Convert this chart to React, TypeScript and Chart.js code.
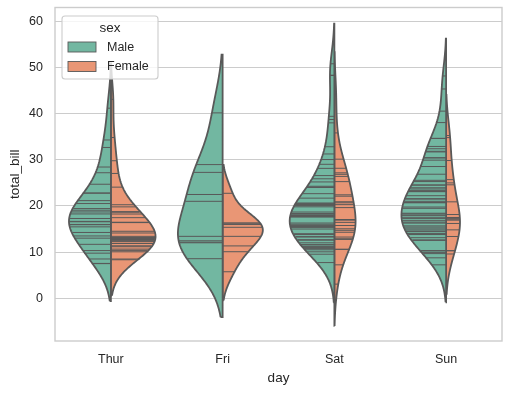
import React, { useEffect, useRef } from "react";
import { Chart, registerables } from "chart.js";

Chart.register(...registerables);

const days = ["Thur", "Fri", "Sat", "Sun"];
const hues = ["Male", "Female"];
const yTicks = [0, 10, 20, 30, 40, 50, 60];

const thurMale = [27.2, 22.76, 17.29, 19.44, 16.66, 32.68, 15.98, 13.03, 18.28, 24.71, 21.16, 11.69, 14.26, 15.95, 8.52, 22.82, 19.08, 16.0, 34.3, 41.19, 9.78, 7.51, 28.44, 15.48, 16.58, 7.56, 10.34, 13.51, 18.71, 20.53];
const thurFemale = [10.07, 34.83, 10.65, 12.43, 24.08, 13.42, 12.48, 29.8, 14.52, 11.38, 20.27, 11.17, 12.26, 18.26, 8.51, 10.33, 14.15, 13.16, 17.47, 27.05, 16.43, 8.35, 18.64, 11.87, 19.81, 43.11, 13.0, 12.74, 13.0, 16.4, 16.47, 18.78];
const friMale = [28.97, 22.49, 40.17, 27.28, 12.03, 21.01, 12.46, 12.16, 8.58, 13.42];
const friFemale = [5.75, 16.32, 22.75, 11.35, 15.38, 13.42, 15.98, 16.27, 10.09];
const satMale = [20.65, 17.92, 39.42, 19.82, 17.81, 13.37, 12.69, 21.7, 9.55, 18.35, 17.78, 24.06, 16.31, 18.69, 31.27, 16.04, 38.01, 11.24, 48.27, 20.29, 13.81, 11.02, 18.29, 17.59, 20.08, 20.23, 15.01, 12.02, 10.51, 17.92, 15.36, 20.49, 25.21, 18.24, 14.0, 50.81, 15.81, 26.59, 38.73, 24.27, 30.06, 25.89, 48.33, 28.15, 11.59, 7.74, 20.45, 13.28, 24.01, 15.69, 11.61, 10.77, 15.53, 10.07, 12.6, 32.83, 29.03, 22.67, 17.82];
const satFemale = [20.29, 15.77, 19.65, 15.06, 20.69, 16.93, 26.41, 16.45, 3.07, 17.07, 26.86, 25.28, 14.73, 44.3, 22.42, 20.92, 14.31, 7.25, 10.59, 10.63, 12.76, 13.27, 28.17, 12.9, 30.14, 22.12, 35.83, 27.18];
const sunMale = [10.34, 21.01, 23.68, 25.29, 8.77, 26.88, 15.04, 14.78, 10.27, 15.42, 18.43, 21.58, 16.29, 17.46, 13.94, 9.68, 30.4, 18.29, 22.23, 32.4, 28.55, 18.04, 12.54, 9.94, 25.56, 19.49, 38.07, 23.95, 29.93, 14.07, 13.13, 17.26, 24.55, 19.77, 48.17, 16.49, 21.5, 12.66, 13.81, 24.52, 20.76, 31.71, 7.25, 31.85, 16.82, 32.9, 17.89, 14.48, 34.63, 34.65, 23.33, 45.35, 23.17, 40.55, 20.69, 30.46, 23.1, 15.69];
const sunFemale = [16.99, 24.59, 35.26, 14.83, 10.33, 16.97, 10.29, 34.81, 25.71, 17.31, 29.85, 25.0, 13.39, 16.21, 17.51, 9.6, 20.9, 18.15];

const groups = [
  [thurMale, thurFemale],
  [friMale, friFemale],
  [satMale, satFemale],
  [sunMale, sunFemale],
];

const FILL = ["#72b7a1", "#e99675"];
const GRAY = "#595959";
const TEXT = "#262626";
const GRID = "#cccccc";
const FONT = "'Liberation Sans', Arial, sans-serif";
const HALF_WIDTH = 0.4;
const GRIDSIZE = 100;
const CUT = 2;

function kde(values: number[]) {
  const n = values.length;
  const mean = values.reduce((a, b) => a + b, 0) / n;
  const sd = Math.sqrt(values.reduce((a, v) => a + (v - mean) * (v - mean), 0) / (n - 1));
  const bw = sd * Math.pow(n, -0.2);
  const lo = Math.min(...values) - CUT * bw;
  const hi = Math.max(...values) + CUT * bw;
  const support: number[] = [];
  const density: number[] = [];
  for (let k = 0; k < GRIDSIZE; k++) {
    const y = lo + ((hi - lo) * k) / (GRIDSIZE - 1);
    let s = 0;
    for (const v of values) {
      const z = (y - v) / bw;
      s += Math.exp(-0.5 * z * z);
    }
    support.push(y);
    density.push(s / (n * bw * Math.sqrt(2 * Math.PI)));
  }
  return { support, density };
}

function buildDatasets() {
  const datasets: any[] = [];
  groups.forEach((pair, i) => {
    const maxCount = Math.max(...pair.map((p) => p.length));
    pair.forEach((vals, j) => {
      const { support, density: raw } = kde(vals);
      const peak = Math.max(...raw);
      // width scaled by number of observations within the day
      const density = raw.map((d) => (d / peak) * (vals.length / maxCount));
      const sign = j === 0 ? -1 : 1;
      const pts = support.map((y, k) => ({ x: i + sign * density[k] * HALF_WIDTH, y }));
      pts.push({ x: i, y: support[support.length - 1] });
      pts.push({ x: i, y: support[0] });
      pts.push({ x: pts[0].x, y: pts[0].y });
      datasets.push({
        type: "line",
        data: pts,
        fill: "shape",
        backgroundColor: FILL[j],
        borderColor: GRAY,
        borderWidth: 1.8,
        pointRadius: 0,
        pointHoverRadius: 0,
        tension: 0.0001,
        order: 2,
      });
      vals.forEach((v) => {
        let best = 0;
        for (let k = 1; k < support.length; k++) {
          if (Math.abs(support[k] - v) < Math.abs(support[best] - v)) best = k;
        }
        const w = HALF_WIDTH * density[best] * 0.99;
        datasets.push({
          type: "line",
          data: [
            { x: i + sign * w, y: v },
            { x: i, y: v },
          ],
          fill: false,
          borderColor: GRAY,
          borderWidth: 1.0,
          pointRadius: 0,
          pointHoverRadius: 0,
          tension: 0,
          order: 1,
        });
      });
    });
  });
  return datasets;
}

const framePlugin = {
  id: "frame",
  afterDatasetsDraw(chart: any) {
    const { ctx, chartArea: a } = chart;
    ctx.save();
    ctx.strokeStyle = GRID;
    ctx.lineWidth = 1.4;
    ctx.strokeRect(a.left, a.top, a.right - a.left, a.bottom - a.top);
    ctx.restore();
  },
};

const legendPlugin = {
  id: "svLegend",
  afterDraw(chart: any) {
    const { ctx, chartArea: a } = chart;
    const x0 = a.left + 7;
    const y0 = a.top + 8.5;
    const w = 96;
    const h = 63;
    const r = 3;
    ctx.save();
    ctx.beginPath();
    ctx.moveTo(x0 + r, y0);
    ctx.lineTo(x0 + w - r, y0);
    ctx.quadraticCurveTo(x0 + w, y0, x0 + w, y0 + r);
    ctx.lineTo(x0 + w, y0 + h - r);
    ctx.quadraticCurveTo(x0 + w, y0 + h, x0 + w - r, y0 + h);
    ctx.lineTo(x0 + r, y0 + h);
    ctx.quadraticCurveTo(x0, y0 + h, x0, y0 + h - r);
    ctx.lineTo(x0, y0 + r);
    ctx.quadraticCurveTo(x0, y0, x0 + r, y0);
    ctx.closePath();
    ctx.fillStyle = "rgba(255,255,255,0.8)";
    ctx.fill();
    ctx.strokeStyle = GRID;
    ctx.lineWidth = 1.1;
    ctx.stroke();

    ctx.fillStyle = TEXT;
    ctx.textBaseline = "middle";
    ctx.textAlign = "center";
    ctx.font = `13.5px ${FONT}`;
    ctx.fillText("sex", x0 + w / 2, y0 + 12.5);

    ctx.font = `12.5px ${FONT}`;
    ctx.textAlign = "left";
    hues.forEach((name, j) => {
      const py = y0 + 26 + j * 19.5;
      ctx.fillStyle = FILL[j];
      ctx.fillRect(x0 + 6, py, 28, 10);
      ctx.strokeStyle = GRAY;
      ctx.lineWidth = 0.9;
      ctx.strokeRect(x0 + 6, py, 28, 10);
      ctx.fillStyle = TEXT;
      ctx.fillText(name, x0 + 45, py + 5.5);
    });
    ctx.restore();
  },
};

export default function App() {
  const ref = useRef<HTMLCanvasElement | null>(null);
  useEffect(() => {
    if (!ref.current) return;
    const chart = new Chart(ref.current, {
      type: "line",
      data: { datasets: buildDatasets() },
      options: {
        animation: false,
        responsive: false,
        devicePixelRatio: 1,
        layout: { padding: { left: 0, right: 8, top: 7.5, bottom: 0 } },
        plugins: { legend: { display: false }, tooltip: { enabled: false } },
        events: [],
        scales: {
          x: {
            type: "linear",
            min: -0.5,
            max: 3.5,
            afterBuildTicks: (s: any) => {
              s.ticks = days.map((_, i) => ({ value: i }));
            },
            afterFit: (s: any) => {
              s.height = 52;
              s.paddingLeft = 0;
              s.paddingRight = 0;
            },
            ticks: {
              callback: (v: any) => days[v as number] ?? "",
              color: TEXT,
              font: { family: FONT, size: 12.5 },
              padding: 11,
              maxRotation: 0,
            },
            grid: { display: false, drawTicks: false },
            border: { display: false },
            title: {
              display: true,
              text: "day",
              color: TEXT,
              font: { family: FONT, size: 13.5 },
              padding: { top: 0, bottom: 7 },
            },
          },
          y: {
            type: "linear",
            min: -9.25,
            max: 63.0,
            afterBuildTicks: (s: any) => {
              s.ticks = yTicks.map((v) => ({ value: v }));
            },
            afterFit: (s: any) => {
              s.width = 55;
              s.paddingTop = 0;
              s.paddingBottom = 0;
            },
            ticks: {
              color: TEXT,
              font: { family: FONT, size: 12.5 },
              padding: 12,
            },
            grid: { color: GRID, lineWidth: 1.1, drawTicks: false },
            border: { display: false },
            title: {
              display: true,
              text: "total_bill",
              color: TEXT,
              font: { family: FONT, size: 13.5 },
              padding: { top: 7, bottom: 0 },
            },
          },
        },
      },
      plugins: [framePlugin, legendPlugin],
    } as any);
    return () => chart.destroy();
  }, []);
  return (
    <div style={{ position: "absolute", left: 0, top: 0, width: 510, height: 393 }}>
      <canvas ref={ref} width={510} height={393} style={{ display: "block" }} />
    </div>
  );
}
